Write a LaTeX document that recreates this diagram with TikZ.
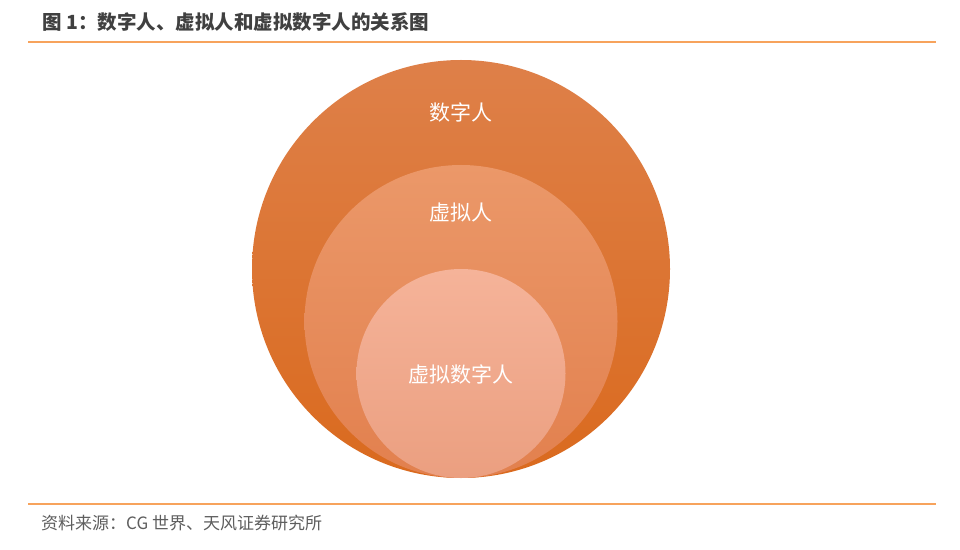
\documentclass[tikz,border=0pt]{standalone}
\usepackage{fontspec}
\setmainfont{Noto Sans CJK SC}
\newfontfamily\cjk{Noto Sans CJK SC}
\definecolor{outerTop}{HTML}{DE8049}
\definecolor{outerBot}{HTML}{DA6A1E}
\definecolor{midTop}{HTML}{EB9869}
\definecolor{midBot}{HTML}{E2804E}
\definecolor{inTop}{HTML}{F5B399}
\definecolor{inBot}{HTML}{EB9F80}
\definecolor{ruleOrange}{HTML}{F7A35C}
\definecolor{titleGray}{HTML}{404040}
\definecolor{srcGray}{HTML}{5E5E5E}
\tikzset{
  ring/.style={circle, inner sep=0pt, outer sep=0pt, draw=none},
  ringlabel/.style={text=white, font=\cjk\fontsize{21}{24}\selectfont, inner sep=0pt},
  rulel/.style={draw=ruleOrange, line width=2pt}
}
\begin{document}
\begin{tikzpicture}[x=1pt,y=1pt]
\useasboundingbox[fill=white] (0,0) rectangle (960,549);
% title
\node[anchor=west, inner sep=0pt, text=titleGray, font=\cjk\bfseries\fontsize{19.5}{22}\selectfont] (title) at (42,527) {图 1：数字人、虚拟人和虚拟数字人的关系图};
\coordinate (tl) at (28,506.7);
\coordinate (tr) at (936,506.7);
\draw[rulel] (tl) -- (tr);
% circles
\node[ring, minimum size=418pt, top color=outerTop, bottom color=outerBot] (outer) at (461,280) {};
\node[ring, minimum size=313pt, top color=midTop, bottom color=midBot] (mid) at (461,227.5) {};
\node[ring, minimum size=209pt, top color=inTop, bottom color=inBot] (inner) at (461,175.5) {};
\node[ringlabel] (l1) at (461,437) {数字人};
\node[ringlabel] (l2) at (461,336) {虚拟人};
\node[ringlabel] (l3) at (461,175) {虚拟数字人};
% footer
\coordinate (bl) at (28,45);
\coordinate (br) at (936,45);
\draw[rulel] (bl) -- (br);
\node[anchor=west, inner sep=0pt, text=srcGray, font=\cjk\fontsize{17}{20}\selectfont] (src) at (41,26) {资料来源：CG 世界、天风证券研究所};
\end{tikzpicture}
\end{document}
